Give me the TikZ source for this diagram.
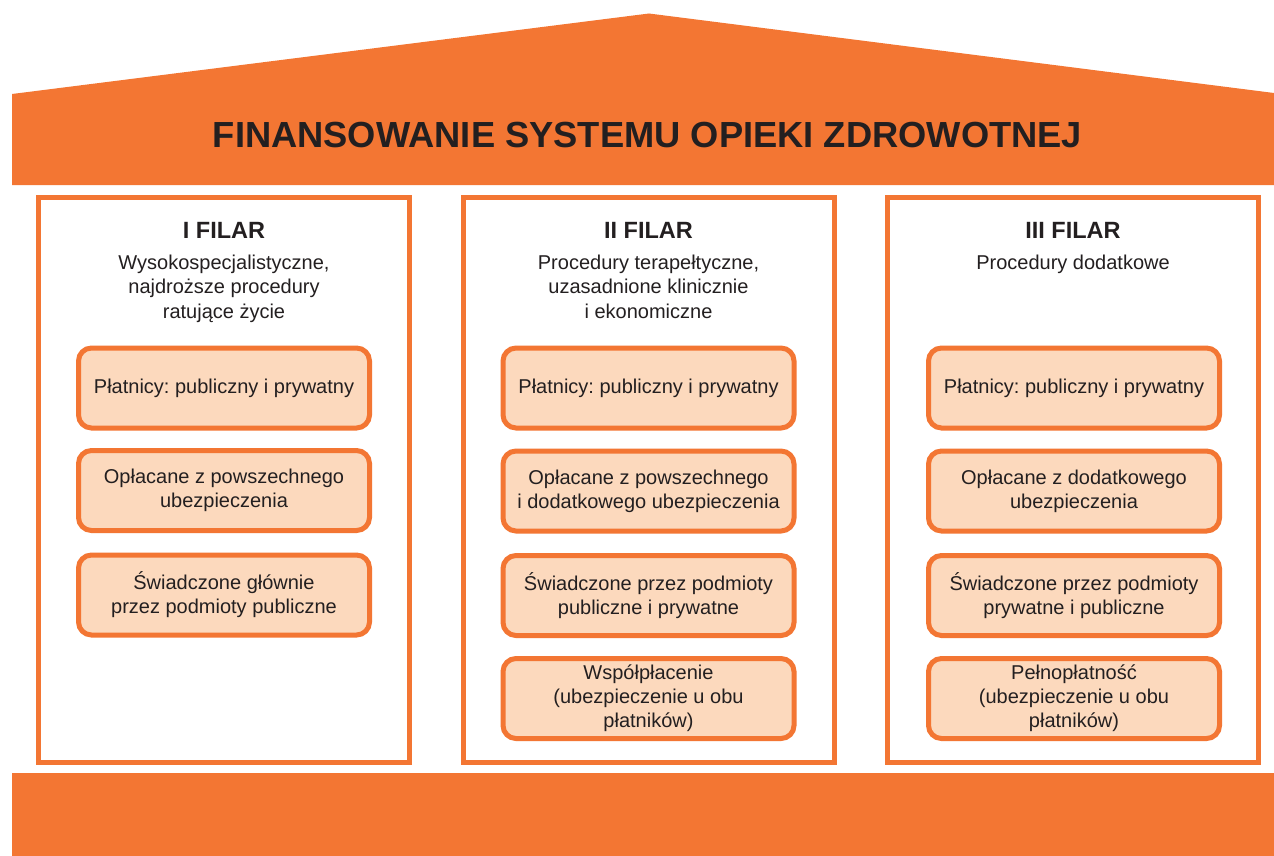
\documentclass[tikz,border=0pt]{standalone}
\usepackage{fontspec}
\setmainfont{Liberation Sans}
\frenchspacing
\definecolor{brandorange}{RGB}{243,118,51}
\definecolor{peach}{RGB}{252,217,189}
\definecolor{ink}{RGB}{35,31,32}
\tikzset{
  pillarframe/.style={draw=brandorange, line width=5pt, fill=white,
    minimum width=371pt, minimum height=565pt, inner sep=0pt},
  pillarhead/.style={anchor=base, inner sep=0pt, text=ink,
    font=\bfseries\fontsize{23.5}{28}\selectfont},
  pillarsub/.style={anchor=north, inner sep=0pt, text=ink, align=center,
    font=\fontsize{20}{24.5}\selectfont},
  cell/.style={draw=brandorange, fill=peach, line width=5pt,
    rounded corners=13pt, minimum width=291pt, minimum height=80pt,
    inner sep=0pt, align=center, text=ink,
    font=\fontsize{20}{24}\selectfont},
}
\begin{document}
\begin{tikzpicture}[x=1pt,y=-1pt]
\useasboundingbox (0,0) rectangle (1274,856);

% roof with the title band
\fill[brandorange] (12,94) -- (649,13.5) -- (1274,93) -- (1274,185) -- (12,185) -- cycle;
\node[anchor=base, inner sep=0pt, text=ink, font=\bfseries\fontsize{36.3}{40}\selectfont]
  (title) at (647.5,147) {FINANSOWANIE SYSTEMU OPIEKI ZDROWOTNEJ};

% foundation
\fill[brandorange] (12,773) rectangle (1274,856);

% pillar frames
\node[pillarframe] (p1) at (224,480) {};
\node[pillarframe] (p2) at (648.5,480) {};
\node[pillarframe] (p3) at (1073,480) {};

% pillar headings
\node[pillarhead] (h1) at (224,238) {I FILAR};
\node[pillarhead] (h2) at (648.5,238) {II FILAR};
\node[pillarhead] (h3) at (1073,238) {III FILAR};

\node[pillarsub] (s1) at (224,254.7) {Wysokospecjalistyczne,\\najdroższe procedury\\ratujące życie};
\node[pillarsub] (s2) at (648.5,254.7) {Procedury terapełtyczne,\\uzasadnione klinicznie\\i ekonomiczne};
\node[pillarsub] (s3) at (1073,254.7) {Procedury dodatkowe};

% pillar I
\node[cell] (a1) at (224,388) {Płatnicy: publiczny i prywatny};
\node[cell] (a2) at (224,490.5) {Opłacane z powszechnego\\ubezpieczenia};
\node[cell] (a3) at (224,595) {Świadczone głównie\\przez podmioty publiczne};

% pillar II
\node[cell] (b1) at (648.5,388) {Płatnicy: publiczny i prywatny};
\node[cell] (b2) at (648.5,491) {Opłacane z powszechnego\\i dodatkowego ubezpieczenia};
\node[cell] (b3) at (648.5,595.5) {Świadczone przez podmioty\\publiczne i prywatne};
\node[cell] (b4) at (648.5,698.5) {Współpłacenie\\(ubezpieczenie u obu\\płatników)};

% pillar III
\node[cell] (c1) at (1074,388) {Płatnicy: publiczny i prywatny};
\node[cell] (c2) at (1074,491) {Opłacane z dodatkowego\\ubezpieczenia};
\node[cell] (c3) at (1074,595.5) {Świadczone przez podmioty\\prywatne i publiczne};
\node[cell] (c4) at (1074,698.5) {Pełnopłatność\\(ubezpieczenie u obu\\płatników)};
\end{tikzpicture}
\end{document}
